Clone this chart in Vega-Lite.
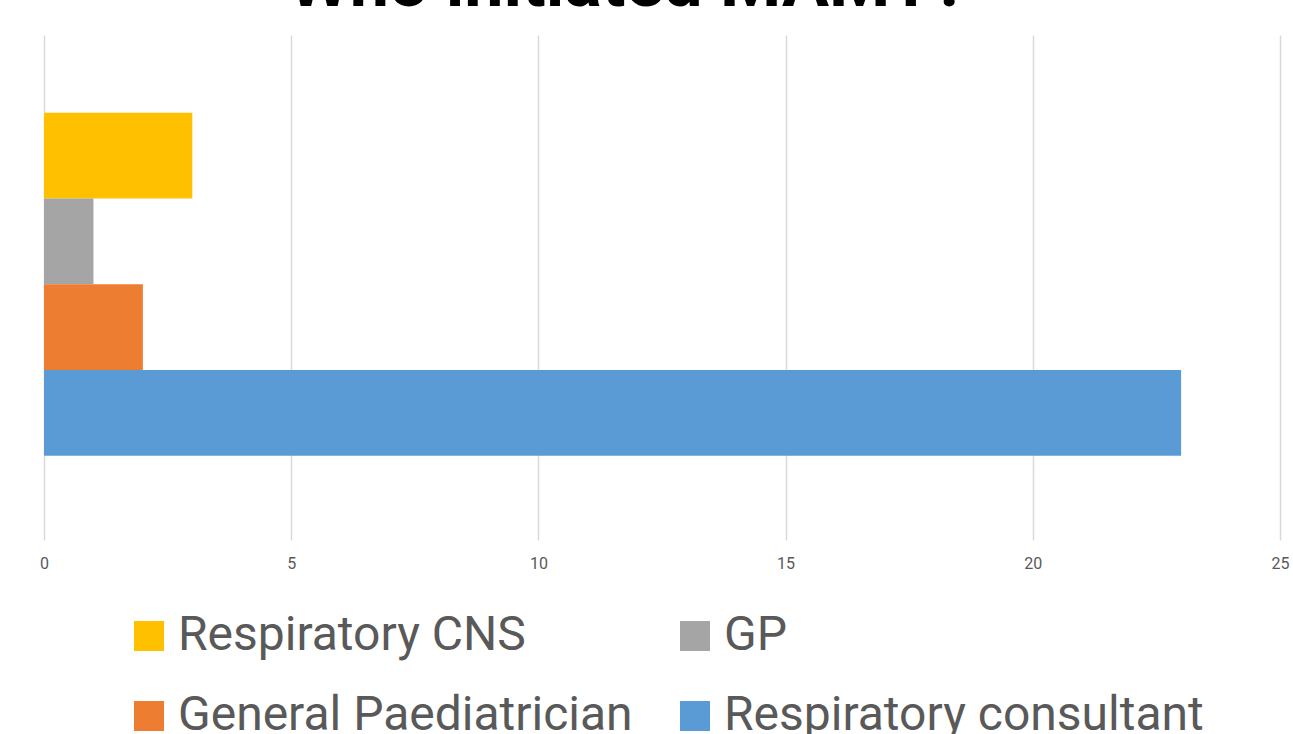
{
  "$schema": "https://vega.github.io/schema/vega-lite/v6.json",
  "width": 1236,
  "height": 505,
  "autosize": "none",
  "padding": {"left": 44, "top": 35, "right": 13, "bottom": 194},
  "background": "white",
  "title": {
    "text": "Who initiated MAMT?",
    "fontSize": 70,
    "font": "Roboto",
    "fontWeight": "bold",
    "color": "#000000",
    "anchor": "middle",
    "baseline": "alphabetic",
    "offset": -41,
    "dx": -34
  },
  "data": {
    "values": [
      {"who": "Respiratory CNS", "count": 3},
      {"who": "GP", "count": 1},
      {"who": "General Paediatrician", "count": 2},
      {"who": "Respiratory consultant", "count": 23}
    ]
  },
  "mark": {"type": "bar"},
  "encoding": {
    "y": {
      "field": "who",
      "type": "nominal",
      "sort": ["Respiratory CNS", "GP", "General Paediatrician", "Respiratory consultant"],
      "scale": {"paddingInner": 0, "paddingOuter": 0.945, "align": 0.48},
      "axis": null
    },
    "x": {
      "field": "count",
      "type": "quantitative",
      "scale": {"domain": [0, 25], "nice": false},
      "axis": {
        "values": [0, 5, 10, 15, 20, 25],
        "title": null,
        "domain": false,
        "ticks": false,
        "grid": true,
        "gridColor": "#d9d9d9",
        "gridWidth": 1.5,
        "labelFontSize": 16,
        "labelFont": "Roboto",
        "labelColor": "#595959",
        "labelPadding": 15,
        "labelFlush": false
      }
    },
    "color": {
      "field": "who",
      "type": "nominal",
      "scale": {
        "domain": ["Respiratory CNS", "GP", "General Paediatrician", "Respiratory consultant"],
        "range": ["#ffc000", "#a5a5a5", "#ed7d31", "#5b9bd5"]
      },
      "legend": {
        "orient": "none",
        "legendX": 81,
        "legendY": 577,
        "direction": "horizontal",
        "columns": 2,
        "title": null,
        "symbolType": "square",
        "symbolSize": 900,
        "symbolStrokeWidth": 0,
        "labelFontSize": 48,
        "labelFont": "Roboto",
        "labelColor": "#595959",
        "labelOffset": 5,
        "labelLimit": 0,
        "columnPadding": 38,
        "rowPadding": 32
      }
    }
  },
  "config": {"view": {"stroke": null}}
}
